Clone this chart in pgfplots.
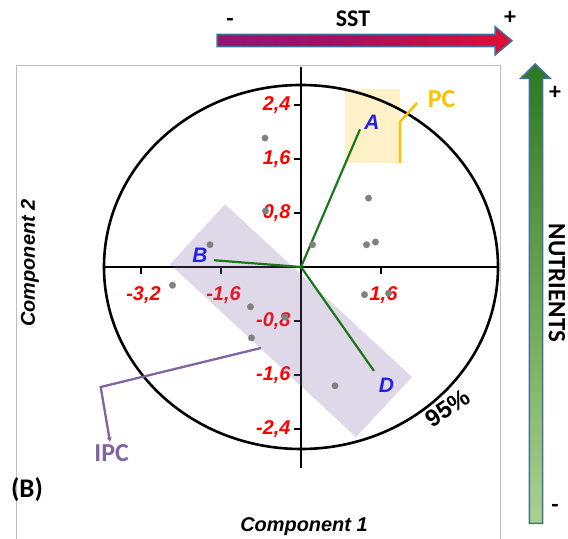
\documentclass[border=0pt]{standalone}
\usepackage{fontspec}
\usepackage{pgfplots}
\pgfplotsset{compat=1.18}
\usetikzlibrary{arrows.meta}
\setmainfont{Liberation Sans}
\newfontfamily\carl{Carlito}
\definecolor{gpt}{RGB}{128,128,128}
\definecolor{gline}{RGB}{25,120,25}
\definecolor{lblue}{RGB}{34,34,225}
\definecolor{pcyel}{RGB}{255,192,0}
\definecolor{ipcpur}{RGB}{128,100,162}
\definecolor{outl}{RGB}{65,113,156}
\definecolor{sst1}{RGB}{125,30,130}
\definecolor{sst2}{RGB}{165,15,100}
\definecolor{sst3}{RGB}{240,15,35}
\definecolor{sst4}{RGB}{255,130,30}
\definecolor{nut1}{RGB}{45,120,35}
\definecolor{nut2}{RGB}{170,210,140}
\pgfdeclarehorizontalshading{sstshade}{100bp}{color(0bp)=(sst1); color(45bp)=(sst2); color(85bp)=(sst3); color(100bp)=(sst4)}
\begin{document}
\begin{tikzpicture}[x=1bp,y=1bp]
\begin{axis}[
  scale only axis, x=50bp, y=67.5bp,
  xmin=-3.94, xmax=3.94, ymin=-2.98, ymax=2.96,
  axis lines=center, axis line style={-, black, line width=1.3bp},
  clip=false,
  xtick={-3.2,-1.6,1.6}, xticklabels={{-3,2},{-1,6},{1,6}},
  ytick={-2.4,-1.6,-0.8,0.8,1.6,2.4},
  yticklabels={{-2,4},{-1,6},{-0,8},{0,8},{1,6},{2,4}},
  tick style={black, line width=1.2bp},
  major tick length=7bp,
  tick align=outside,
  ticklabel style={font=\fontsize{20}{20}\selectfont\bfseries\itshape, text=red},
  xticklabel style={xshift=2.5bp, yshift=-9bp},
]
\fill[pcyel, fill opacity=0.22] (axis cs:0.88,1.54) rectangle (axis cs:1.98,2.64);
\fill[ipcpur, fill opacity=0.25] (axis cs:-1.52,0.93) -- (axis cs:2.22,-1.63) -- (axis cs:1.10,-2.52) -- (axis cs:-2.62,0.04) -- cycle;
\draw[line width=2.6bp] (axis cs:0,0) ellipse [x radius=197bp, y radius=182bp];
\addplot[only marks, mark=*, mark size=3.2bp, gpt] coordinates {
(-0.72,1.91) (1.35,1.02) (1.31,0.33) (1.49,0.37) (0.23,0.33) (-1.82,0.33)
(-0.71,0.83) (-2.57,-0.27) (-1.01,-0.59) (-0.32,-0.74) (-0.99,-1.05)
(0.68,-1.76) (1.27,-0.41) (1.75,-0.39)};
\addplot[gline, line width=2.2bp] coordinates {(0,0) (1.18,2.04)};
\addplot[gline, line width=2.2bp] coordinates {(0,0) (-1.74,0.10)};
\addplot[gline, line width=2.2bp] coordinates {(0,0) (1.46,-1.54)};
\node[text=lblue, font=\fontsize{21}{21}\selectfont\bfseries\itshape] at (axis cs:1.42,2.14) {A};
\node[text=lblue, font=\fontsize{21}{21}\selectfont\bfseries\itshape] at (axis cs:-2.02,0.18) {B};
\node[text=lblue, font=\fontsize{21}{21}\selectfont\bfseries\itshape] at (axis cs:1.71,-1.76) {D};
\draw[pcyel, line width=2.5bp] (axis cs:1.98,1.54) -- (axis cs:1.98,2.15) -- (axis cs:2.32,2.43);
\coordinate (O) at (axis cs:0,0);
\end{axis}
\pgfresetboundingbox
\begin{scope}[shift={(O)}]
\begin{scope}[shift={(-301,-272)}]
\useasboundingbox (0,0) rectangle (568,539);
% frame
\draw[black!25, line width=1bp] (17,0) -- (17,473) -- (500,473) -- (500,0);
% IPC leader
\draw[ipcpur, line width=2.3bp, -{Stealth[length=5bp,width=5bp]}] (261,191) -- (100.7,152) -- (110,97);
\node[text=ipcpur, font=\carl\fontsize{26}{26}\selectfont\bfseries] at (111.7,85.7) {IPC};
\node[text=pcyel, font=\carl\fontsize{26}{26}\selectfont\bfseries] at (441.7,439.7) {PC};
\node[rotate=34, font=\fontsize{24}{24}\selectfont\bfseries] at (448,131) {95\%};
\node[font=\carl\fontsize{27}{27}\selectfont\bfseries] at (27,49) {(B)};
\node[anchor=base, font=\fontsize{20}{20}\selectfont\bfseries\itshape] at (304,7) {Component 1};
\node[rotate=90, anchor=base, font=\fontsize{20}{20}\selectfont\bfseries\itshape] at (35,276) {Component 2};
% SST arrow
\shade[shading=sstshade] (217,504.7) -- (495,504.7) -- (495,512.3) -- (512,498.3) -- (495,484) -- (495,492.3) -- (217,492.3) -- cycle;
\draw[outl, line width=1.5bp, line join=miter] (217,504.7) -- (495,504.7) -- (495,512.3) -- (512,498.3) -- (495,484) -- (495,492.3) -- (217,492.3) -- cycle;
\node[anchor=base, font=\carl\fontsize{24}{24}\selectfont\bfseries] at (353,512.5) {SST};
\node[anchor=base, font=\carl\fontsize{24}{24}\selectfont\bfseries] at (230,512.5) {-};
\node[anchor=base, font=\carl\fontsize{24}{24}\selectfont\bfseries] at (510,514) {+};
% NUTRIENTS arrow
\shade[top color=nut1, bottom color=nut2] (529.3,15.7) -- (529.3,460.7) -- (520.7,460.7) -- (535.3,475) -- (550,460.7) -- (542.7,460.7) -- (542.7,15.7) -- cycle;
\draw[outl, line width=1.5bp, line join=miter] (529.3,15.7) -- (529.3,460.7) -- (520.7,460.7) -- (535.3,475) -- (550,460.7) -- (542.7,460.7) -- (542.7,15.7) -- cycle;
\node[rotate=-90, font=\carl\fontsize{25}{25}\selectfont\bfseries] at (557,256) {NUTRIENTS};
\node[font=\carl\fontsize{24}{24}\selectfont\bfseries] at (555,446) {+};
\node[font=\carl\fontsize{24}{24}\selectfont\bfseries] at (555,31) {-};
\end{scope}
\end{scope}
\end{tikzpicture}
\end{document}
